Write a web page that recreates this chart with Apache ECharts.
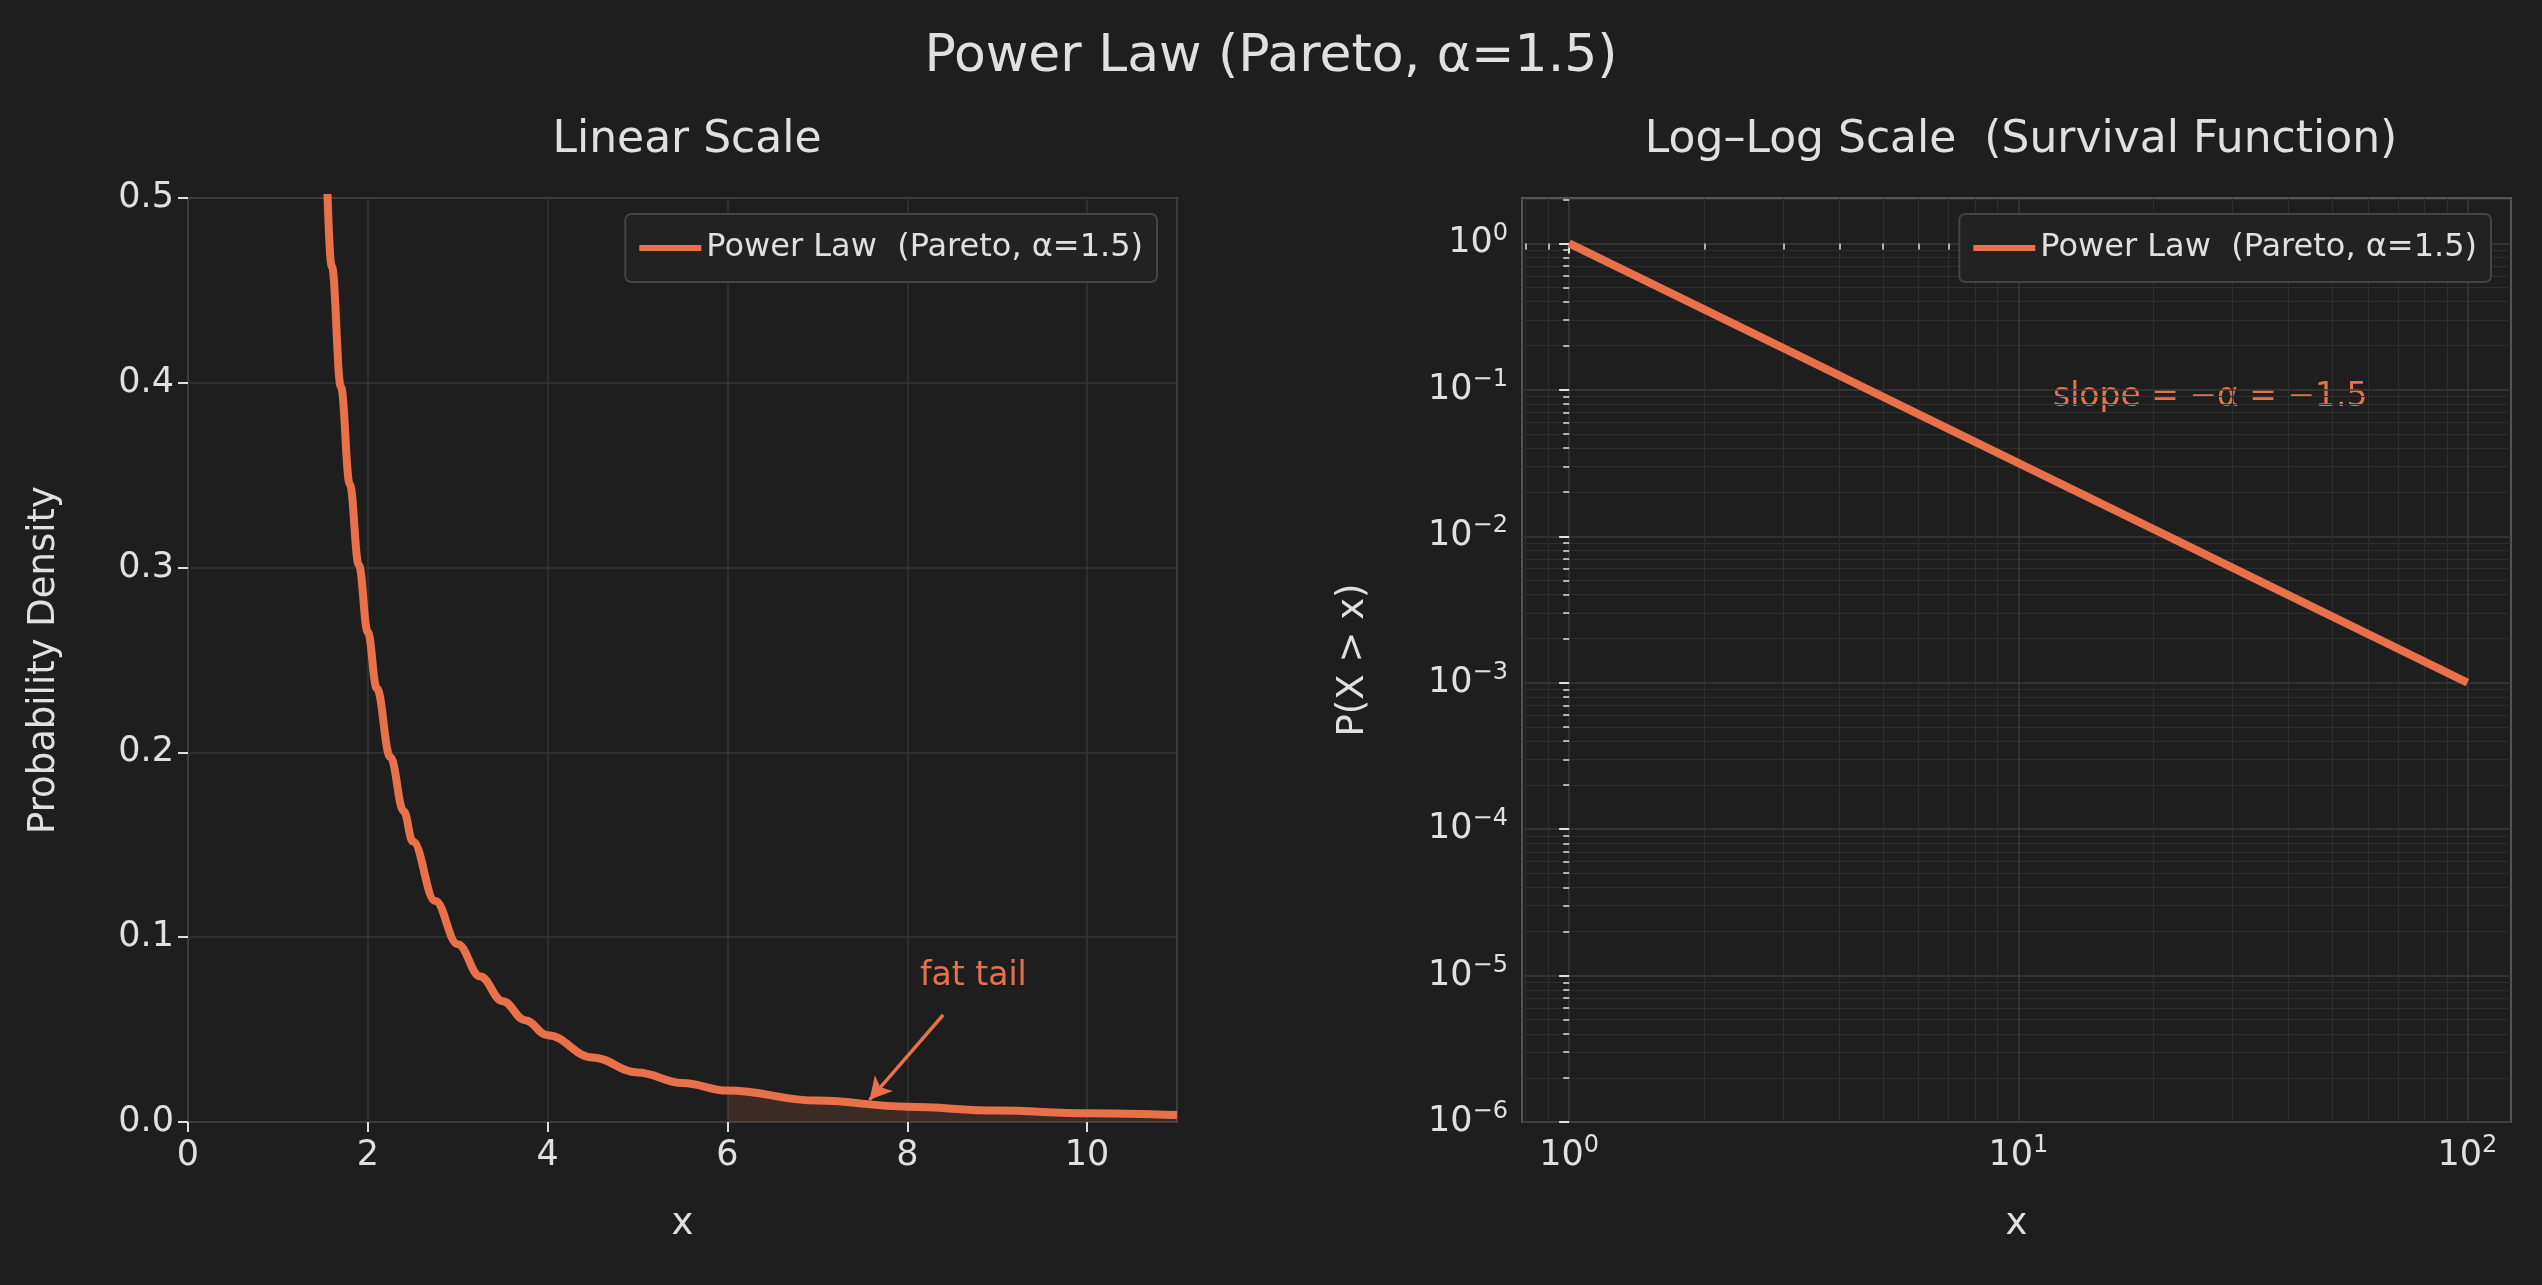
<!DOCTYPE html>
<html><head><meta charset="utf-8">
<script src="https://cdn.jsdelivr.net/npm/echarts@6/dist/echarts.min.js"></script>
<style>html,body{margin:0;background:#1e1e1e}#c{width:2542px;height:1285px}</style>
</head><body><div id="c"></div>
<script>
const pdfX = [1.0,1.1,1.2,1.3,1.4,1.5,1.6,1.7,1.8,1.9,2.0,2.1,2.25,2.4,2.5,2.75,3,3.25,3.5,3.75,4,4.5,5,5.5,6,7,8,9,10,11];
const pdfY = [1.5,1.182,0.951,0.778,0.647,0.544,0.463,0.398,0.345,0.3014,0.265,0.2347,0.1975,0.1681,0.1518,0.1196,0.0962,0.0788,0.0654,0.0551,0.0469,0.0349,0.0268,0.0211,0.0170,0.01157,0.00829,0.00617,0.00474,0.00374];
const tailStart = 6;
const survX = [1, 100];
const survY = [1, 0.001];
const name = 'Power Law  (Pareto, α=1.5)';
const C = '#e8714a', T = '#e0e0e0', F = 'DejaVu Sans';

const lg = Math.log10;
const pdfData = pdfX.map((x,i)=>[x,pdfY[i]]);
const tailData = pdfData.filter(d=>d[0]>=tailStart);
const survData = survX.map((x,i)=>[lg(x),lg(survY[i])]);
const minorsX=[], minorsY=[];
for (let n=-1;n<=2;n++) for (let k=2;k<=9;k++){const v=lg(k*Math.pow(10,n)); if(v>=-0.106&&v<=2.098) minorsX.push(v);}
for (let n=-6;n<=0;n++) for (let k=2;k<=9;k++){const v=lg(k*Math.pow(10,n)); if(v>=-6&&v<=0.31) minorsY.push(v);}
const sup = v => { const s = String(Math.round(v)).replace('-','−'); return '{b|10}{s|'+s+'}'; };
const rich = {b:{fontSize:35,color:T,fontFamily:F},s:{fontSize:24,color:T,fontFamily:F,verticalAlign:'top',padding:[0,0,20,0]}};

const axLine = {show:false};
const base = {axisLine:axLine, nameTextStyle:{color:T,fontSize:37,fontFamily:F}};
const legendBase = {data:[name],top:214,orient:'vertical',backgroundColor:'#222',borderColor:'#444',borderWidth:2,borderRadius:6,padding:[18,14],
  icon:'path://M0 0H60V6H0Z',itemWidth:62,itemHeight:7,itemGap:10,textStyle:{color:T,fontSize:32,fontFamily:F}};
const chart = echarts.init(document.getElementById('c'));
chart.setOption({
  backgroundColor:'#1e1e1e',
  animation:false,
  title:[
    {text:'Power Law (Pareto, α=1.5)',left:'center',top:26,textStyle:{color:T,fontSize:52,fontWeight:'normal',fontFamily:F}},
    {text:'Linear Scale',left:682,textAlign:'center',top:114,textStyle:{color:T,fontSize:44,fontWeight:'normal',fontFamily:F}},
    {text:'Log–Log Scale  (Survival Function)',left:2016,textAlign:'center',top:114,textStyle:{color:T,fontSize:44,fontWeight:'normal',fontFamily:F}}
  ],
  grid:[
    {left:188,top:198,width:989,height:924,show:true,borderColor:'#555',borderWidth:2,backgroundColor:'#1e1e1e'},
    {left:1522,top:198,width:989,height:924,show:true,borderColor:'#555',borderWidth:2,backgroundColor:'#1e1e1e'}
  ],
  legend:[
    Object.assign({},legendBase,{right:1385}),
    Object.assign({},legendBase,{right:51})
  ],
  xAxis:[
    Object.assign({},base,{type:'value',gridIndex:0,position:'bottom',min:0,max:11,interval:2,name:'x',nameLocation:'middle',nameGap:84,
      axisTick:{show:true,length:10,lineStyle:{color:T,width:2}},
      axisLabel:{color:T,fontSize:35,fontFamily:F,margin:16,showMaxLabel:false},
      splitLine:{show:true,lineStyle:{color:'#363636',width:1.5}}}),
    Object.assign({},base,{type:'value',gridIndex:1,position:'bottom',min:-0.105,max:2.097,name:'x',nameLocation:'middle',nameGap:84,
      axisTick:{show:true,length:10,customValues:[0,1,2],lineStyle:{color:T,width:2}},
      axisLabel:{customValues:[0,1,2],formatter:sup,rich:rich,margin:12},
      splitLine:{show:true,lineStyle:{color:'#3a3a3a',width:1.5}}}),
    {type:'value',gridIndex:1,position:'bottom',offset:0,min:-0.105,max:2.097,axisLine:axLine,
      axisTick:{show:true,length:6,customValues:minorsX,lineStyle:{color:T,width:1.5}},
      axisLabel:{show:false},splitLine:{show:true,lineStyle:{color:'#2f2f2f',width:1.2}}}
  ],
  yAxis:[
    Object.assign({},base,{type:'value',gridIndex:0,position:'left',min:0,max:0.5,interval:0.1,name:'Probability Density',nameLocation:'middle',nameGap:125,
      axisTick:{show:true,length:10,lineStyle:{color:T,width:2}},
      axisLabel:{color:T,fontSize:35,fontFamily:F,margin:14,formatter:v=>v.toFixed(1)},
      splitLine:{show:true,lineStyle:{color:'#363636',width:1.5}}}),
    Object.assign({},base,{type:'value',gridIndex:1,position:'left',min:-6,max:0.31,name:'P(X > x)',nameLocation:'middle',nameGap:150,
      axisTick:{show:true,length:10,customValues:[-6,-5,-4,-3,-2,-1,0],lineStyle:{color:T,width:2}},
      axisLabel:{customValues:[-6,-5,-4,-3,-2,-1,0],formatter:sup,rich:rich,margin:14},
      splitLine:{show:true,lineStyle:{color:'#3a3a3a',width:1.5}}}),
    {type:'value',gridIndex:1,position:'left',offset:0,min:-6,max:0.31,axisLine:axLine,
      axisTick:{show:true,length:6,customValues:minorsY,lineStyle:{color:T,width:1.5}},
      axisLabel:{show:false},splitLine:{show:true,lineStyle:{color:'#2f2f2f',width:1.2}}}
  ],
  series:[
    {name:'tail',type:'line',xAxisIndex:0,yAxisIndex:0,data:tailData,smooth:0.4,smoothMonotone:'x',symbol:'none',lineStyle:{width:0},
     areaStyle:{color:'rgba(232,113,74,0.22)'},z:1},
    {name:name,type:'line',xAxisIndex:0,yAxisIndex:0,data:pdfData,smooth:0.4,smoothMonotone:'x',symbol:'none',clip:true,
     lineStyle:{color:C,width:8},itemStyle:{color:C},z:3,
     markLine:{silent:true,symbol:['none','arrow'],symbolSize:[18,22],lineStyle:{color:C,width:3.5,type:'solid'},label:{show:false},
       data:[[{coord:[8.4,0.058]},{coord:[7.58,0.012]}]]}},
    {name:name,type:'line',xAxisIndex:1,yAxisIndex:1,data:survData,symbol:'none',lineStyle:{color:C,width:8},itemStyle:{color:C},z:3}
  ],
  graphic:[
    {type:'text',left:920,top:960,style:{text:'fat tail',fill:C,fontSize:33,fontFamily:F}},
    {type:'text',left:2053,top:381,style:{text:'slope = −α = −1.5',fill:C,fontSize:33,fontFamily:F}}
  ]
});
</script></body></html>
